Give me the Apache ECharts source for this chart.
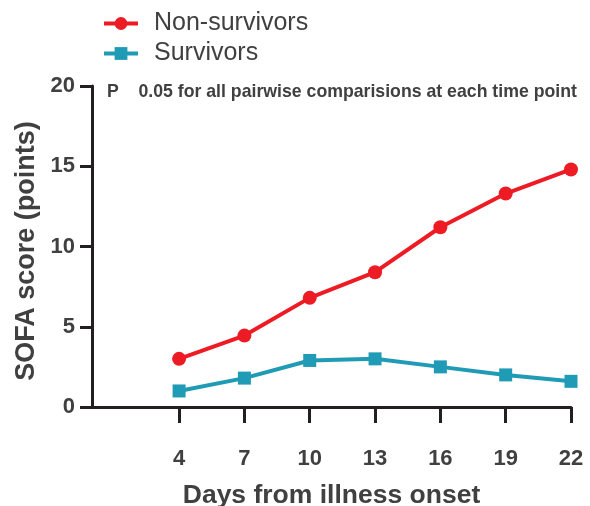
<!DOCTYPE html>
<html>
<head>
<meta charset="utf-8">
<script src="https://cdn.jsdelivr.net/npm/echarts@6/dist/echarts.min.js"></script>
<style>html,body{margin:0;padding:0;background:#fff}#c{width:590px;height:506px}</style>
</head>
<body>
<div id="c"></div>
<script>
var days = [4, 7, 10, 13, 16, 19, 22];
var nonSurvivors = [3.0, 4.45, 6.8, 8.4, 11.2, 13.3, 14.8];
var survivors = [1.0, 1.8, 2.9, 3.0, 2.5, 2.0, 1.6];
var yTicks = [0, 5, 10, 15, 20];
var seriesNames = ['Non-survivors', 'Survivors'];
var note = 'P    0.05 for all pairwise comparisions at each time point';

function pairs(vals) { return days.map(function (d, i) { return [d, vals[i]]; }); }

var axisColor = '#231f20';
var textColor = '#404040';
var font = 'Liberation Sans, Arial, sans-serif';

var chart = echarts.init(document.getElementById('c'));
chart.setOption({
  animation: false,
  textStyle: { fontFamily: font },
  legend: {
    orient: 'vertical', left: 97, top: 6, itemWidth: 34, itemHeight: 16, itemGap: 5,
    textStyle: { fontSize: 25, color: textColor, fontFamily: font, padding: [0, 0, 0, 11] },
    lineStyle: { width: 4 },
    data: seriesNames
  },
  graphic: [{
    type: 'text', left: 107, top: 83,
    style: { text: note, fontSize: 17.7, fontWeight: 'bold', fill: textColor, fontFamily: font }
  }],
  grid: { left: 92, right: 19, top: 86, bottom: 99, containLabel: false, outerBoundsMode: 'none' },
  xAxis: {
    type: 'value', min: 0, max: 22,
    name: 'Days from illness onset', nameLocation: 'middle', nameGap: 75,
    nameTextStyle: { fontSize: 26.5, fontWeight: 'bold', color: textColor, fontFamily: font },
    axisLine: { show: true, lineStyle: { color: axisColor, width: 3 } },
    axisTick: { show: true, customValues: days, length: 16, lineStyle: { color: axisColor, width: 3 } },
    axisLabel: { customValues: days, margin: 41, fontSize: 22, fontWeight: 'bold', color: textColor, fontFamily: font },
    splitLine: { show: false }
  },
  yAxis: {
    type: 'value', min: 0, max: 20, interval: 5,
    name: 'SOFA score (points)', nameLocation: 'middle', nameGap: 52,
    nameTextStyle: { fontSize: 27, fontWeight: 'bold', color: textColor, fontFamily: font, padding: [0, 9, 0, 0] },
    axisLine: { show: true, lineStyle: { color: axisColor, width: 3 } },
    axisTick: { show: true, length: 12, lineStyle: { color: axisColor, width: 3 } },
    axisLabel: { margin: 17, fontSize: 22, fontWeight: 'bold', color: textColor, fontFamily: font },
    splitLine: { show: false }
  },
  series: [
    { name: seriesNames[0], type: 'line', data: pairs(nonSurvivors), symbol: 'circle', symbolSize: 14,
      itemStyle: { color: '#ed1c24' }, lineStyle: { color: '#ed1c24', width: 4 } },
    { name: seriesNames[1], type: 'line', data: pairs(survivors), symbol: 'rect', symbolSize: 13,
      itemStyle: { color: '#209bb5' }, lineStyle: { color: '#209bb5', width: 4 } }
  ]
});
</script>
</body>
</html>
